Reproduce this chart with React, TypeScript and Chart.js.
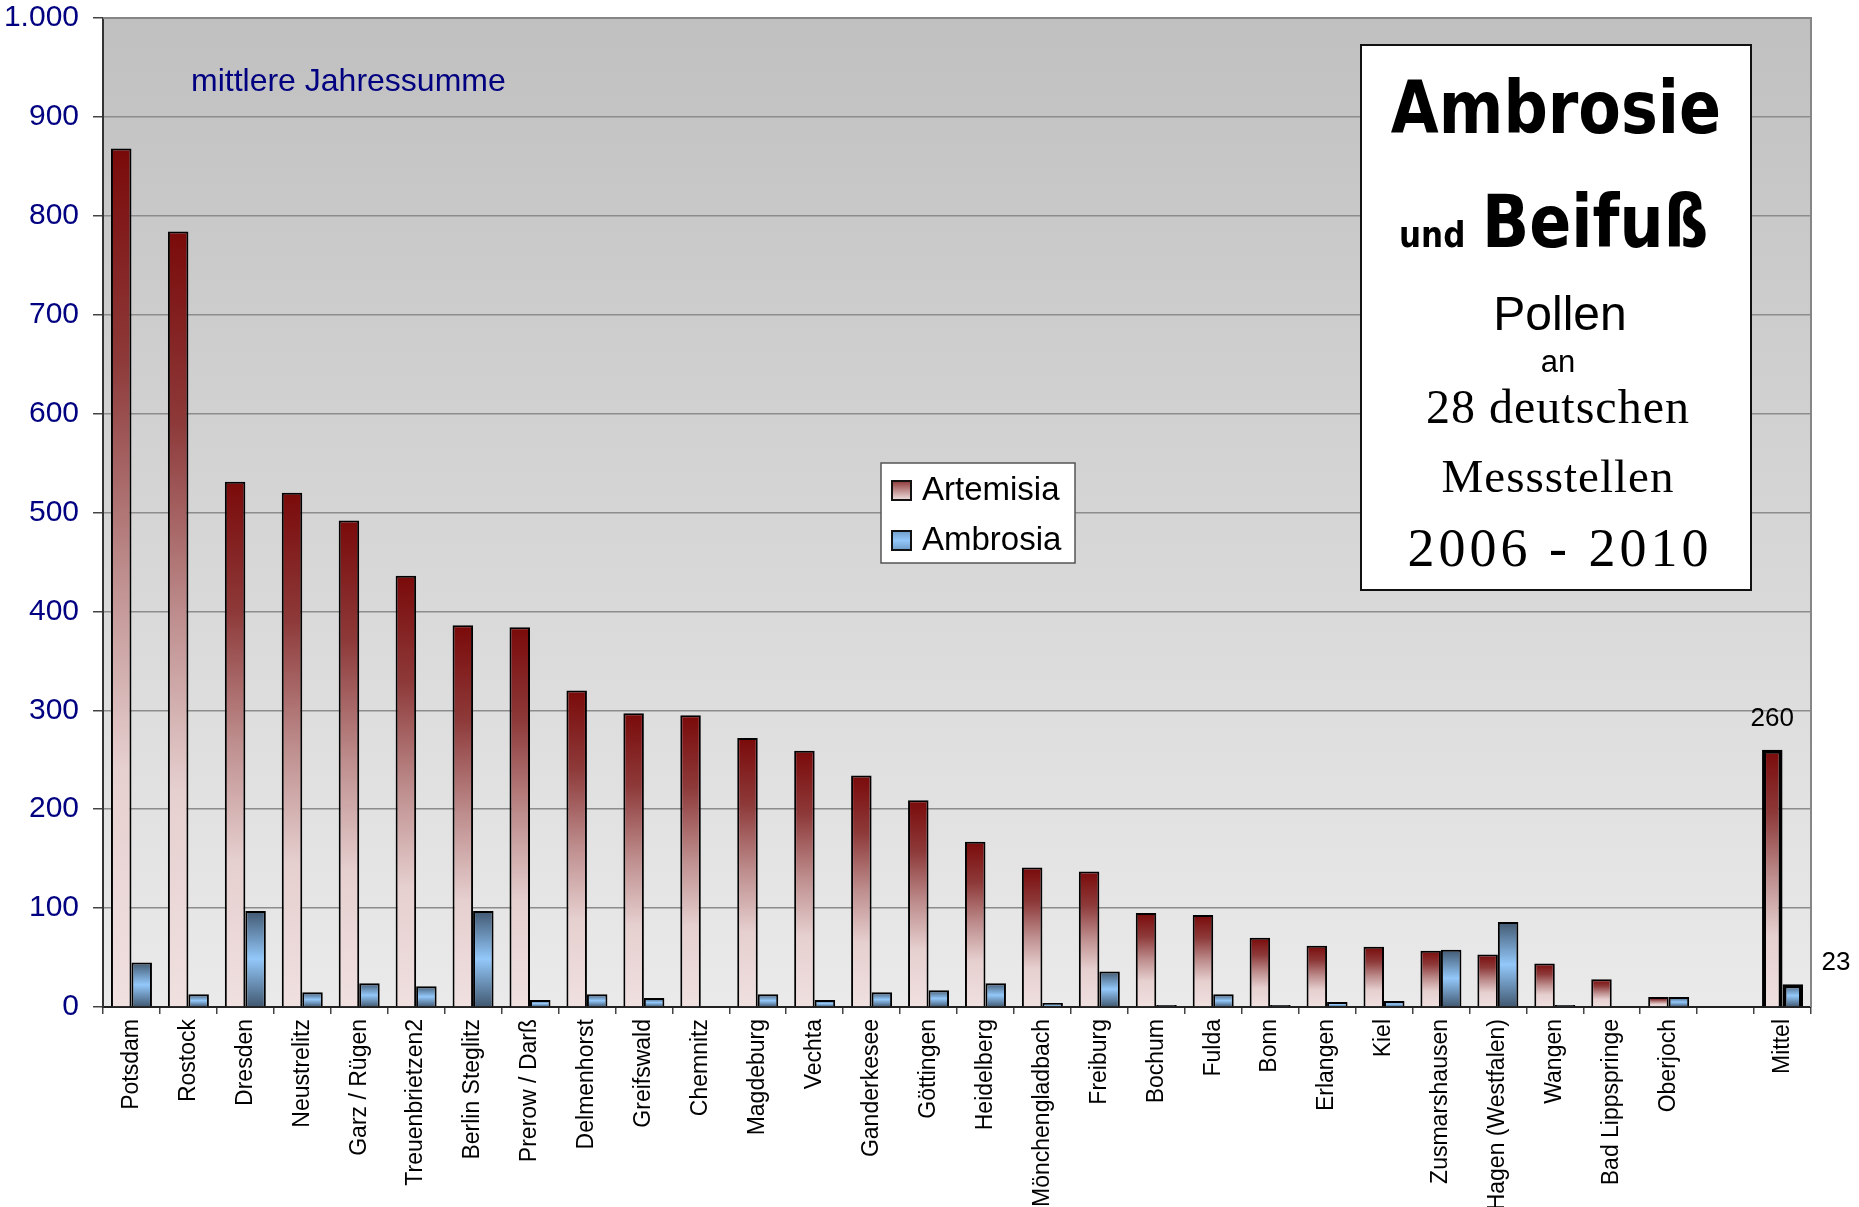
import { useEffect, useRef } from 'react';
import { Chart, registerables } from 'chart.js';

Chart.register(...registerables);

const stations = [
  'Potsdam', 'Rostock', 'Dresden', 'Neustrelitz', 'Garz / Rügen', 'Treuenbrietzen2',
  'Berlin Steglitz', 'Prerow / Darß', 'Delmenhorst', 'Greifswald', 'Chemnitz', 'Magdeburg',
  'Vechta', 'Ganderkesee', 'Göttingen', 'Heidelberg', 'Mönchengladbach', 'Freiburg',
  'Bochum', 'Fulda', 'Bonn', 'Erlangen', 'Kiel', 'Zusmarshausen', 'Hagen (Westfalen)',
  'Wangen', 'Bad Lippspringe', 'Oberjoch', '', 'Mittel',
];

const artemisia = [
  868, 784, 531, 520, 492, 436, 386, 384, 320, 297, 295, 272, 259, 234, 209, 167, 141, 137,
  95, 93, 70, 62, 61, 57, 53, 44, 28, 10, null, 260,
];

const ambrosia = [
  45, 13, 97, 15, 24, 21, 97, 7, 13, 9, 0, 13, 7, 15, 17, 24, 4, 36,
  2, 13, 2, 5, 6, 58, 86, 2, 0, 10, null, 23,
];

const yTicks = [0, 100, 200, 300, 400, 500, 600, 700, 800, 900, 1000];

const seriesNames = ['Artemisia', 'Ambrosia'];

const titleLines = ['Ambrosie', 'und', 'Beifuß', 'Pollen', 'an', '28 deutschen', 'Messstellen', '2006 - 2010'];
const subtitle = 'mittlere Jahressumme';

const SANS = "'Liberation Sans', Arial, sans-serif";
const SERIF = "'Liberation Serif', 'Times New Roman', serif";
const ROUND = "'DejaVu Sans', sans-serif";

function fmt(v: number) {
  return String(v).replace(/\B(?=(\d{3})+(?!\d))/g, '.');
}

function artStops(g: CanvasGradient) {
  g.addColorStop(0, '#7a0a0a');
  g.addColorStop(0.25, '#8e3a3a');
  g.addColorStop(0.5, '#bf8f8f');
  g.addColorStop(0.72, '#e6cfcf');
  g.addColorStop(1, '#f0e0e0');
}

function ambStops(g: CanvasGradient) {
  g.addColorStop(0, '#415870');
  g.addColorStop(0.5, '#93c8fa');
  g.addColorStop(1, '#415870');
}

function makeGrad(kind: 'art' | 'amb') {
  return (c: any) => {
    const chart = c.chart;
    const a = chart.chartArea;
    if (!a || c.type !== 'data' || c.raw == null) return kind === 'art' ? '#c08a8a' : '#93c8fa';
    const y = chart.scales.y;
    const top = y.getPixelForValue(c.raw);
    const bot = y.getPixelForValue(0);
    if (bot - top < 2) return kind === 'art' ? '#7a0a0a' : '#415870';
    const g = chart.ctx.createLinearGradient(0, top, 0, bot);
    if (kind === 'art') artStops(g); else ambStops(g);
    return g;
  };
}

function stretchedText(ctx: CanvasRenderingContext2D, text: string, x: number, y: number, sy: number) {
  ctx.save();
  ctx.translate(x, y);
  ctx.scale(1, sy);
  ctx.fillText(text, 0, 0);
  ctx.restore();
}

const bgPlugin = {
  id: 'bgPlugin',
  beforeDraw(chart: any) {
    const { ctx, chartArea: a } = chart;
    ctx.save();
    const g = ctx.createLinearGradient(0, a.top, 0, a.bottom);
    g.addColorStop(0, '#c0c0c0');
    g.addColorStop(1, '#eaeaea');
    ctx.fillStyle = g;
    ctx.fillRect(a.left, a.top, a.right - a.left, a.bottom - a.top);
    ctx.restore();
  },
  beforeDatasetsDraw(chart: any) {
    const { ctx, chartArea: a } = chart;
    ctx.save();
    ctx.strokeStyle = '#868686';
    ctx.lineWidth = 2;
    ctx.beginPath();
    ctx.moveTo(a.left, a.top);
    ctx.lineTo(a.right, a.top);
    ctx.lineTo(a.right, a.bottom);
    ctx.stroke();
    ctx.restore();
  },
  afterDraw(chart: any) {
    const { ctx, chartArea: a } = chart;
    ctx.save();

    // subtitle
    ctx.fillStyle = '#000080';
    ctx.font = `32px ${SANS}`;
    ctx.textAlign = 'left';
    ctx.textBaseline = 'middle';
    ctx.fillText(subtitle, 191, 82);

    // legend
    const lx = 881, ly = 463, lw = 194, lh = 100;
    ctx.fillStyle = '#ffffff';
    ctx.fillRect(lx, ly, lw, lh);
    ctx.strokeStyle = '#555555';
    ctx.lineWidth = 1.5;
    ctx.strokeRect(lx, ly, lw, lh);
    const swatch = (y: number, kind: 'art' | 'amb') => {
      const g = ctx.createLinearGradient(0, y, 0, y + 19);
      if (kind === 'art') {
        g.addColorStop(0, '#8e3a3a');
        g.addColorStop(1, '#f0e0e0');
      } else {
        g.addColorStop(0, '#6f9cc8');
        g.addColorStop(0.5, '#93c8fa');
        g.addColorStop(1, '#6f9cc8');
      }
      ctx.fillStyle = g;
      ctx.fillRect(892, y, 19, 19);
      ctx.strokeStyle = '#111';
      ctx.lineWidth = 2;
      ctx.strokeRect(892, y, 19, 19);
    };
    swatch(481, 'art');
    swatch(531, 'amb');
    ctx.fillStyle = '#000';
    ctx.font = `33px ${SANS}`;
    ctx.textAlign = 'left';
    ctx.textBaseline = 'middle';
    ctx.fillText(seriesNames[0], 922, 491);
    ctx.fillText(seriesNames[1], 922, 541);

    // title box
    const bx = 1361, by = 45, bw = 390, bh = 545;
    ctx.fillStyle = '#ffffff';
    ctx.fillRect(bx, by, bw, bh);
    ctx.strokeStyle = '#111';
    ctx.lineWidth = 2;
    ctx.strokeRect(bx, by, bw, bh);
    ctx.fillStyle = '#000';
    ctx.textBaseline = 'alphabetic';
    ctx.textAlign = 'center';
    ctx.font = `bold 62px ${ROUND}`;
    stretchedText(ctx, titleLines[0], 1556, 133, 1.18);
    ctx.textAlign = 'left';
    ctx.font = `bold 31px ${ROUND}`;
    stretchedText(ctx, titleLines[1], 1399, 247, 1.12);
    ctx.font = `bold 62px ${ROUND}`;
    stretchedText(ctx, titleLines[2], 1482, 247, 1.18);
    ctx.textAlign = 'center';
    ctx.font = `48px ${SANS}`;
    ctx.fillText(titleLines[3], 1560, 330);
    ctx.font = `31px ${SANS}`;
    ctx.fillText(titleLines[4], 1558, 372);
    (ctx as any).letterSpacing = '1px';
    ctx.font = `48px ${SERIF}`;
    ctx.fillText(titleLines[5], 1558, 423);
    ctx.font = `47px ${SERIF}`;
    ctx.fillText(titleLines[6], 1558, 492);
    (ctx as any).letterSpacing = '4px';
    ctx.font = `54px ${SERIF}`;
    ctx.fillText(titleLines[7], 1560, 566);
    (ctx as any).letterSpacing = '0px';

    // data labels for the mean
    const last = stations.length - 1;
    const m0 = chart.getDatasetMeta(0).data[last];
    const m1 = chart.getDatasetMeta(1).data[last];
    ctx.font = `26px ${SANS}`;
    ctx.textBaseline = 'middle';
    ctx.textAlign = 'center';
    if (m0) ctx.fillText(String(artemisia[last]), m0.x, m0.y - 31);
    if (m1) ctx.fillText(String(ambrosia[last]), a.right + 25, m1.y - 21);

    ctx.restore();
  },
};

export default function App() {
  const ref = useRef<HTMLCanvasElement | null>(null);

  useEffect(() => {
    document.body.style.margin = '0';
    const canvas = ref.current;
    if (!canvas) return;
    const last = stations.length - 1;
    const chart = new Chart(canvas, {
      type: 'bar',
      data: {
        labels: stations,
        datasets: [
          {
            label: seriesNames[0],
            data: artemisia,
            backgroundColor: makeGrad('art'),
            borderColor: '#000',
            borderWidth: (c: any) => (c.dataIndex === last ? 4 : 2),
            categoryPercentage: 0.72,
            barPercentage: 1,
          },
          {
            label: seriesNames[1],
            data: ambrosia,
            backgroundColor: makeGrad('amb'),
            borderColor: '#000',
            borderWidth: (c: any) => (c.dataIndex === last ? 4 : 2),
            categoryPercentage: 0.72,
            barPercentage: 1,
          },
        ],
      },
      options: {
        responsive: false,
        animation: false,
        devicePixelRatio: 1,
        layout: { padding: { top: 18, right: 48, left: 0, bottom: 0 } },
        plugins: {
          legend: { display: false },
          tooltip: { enabled: false },
          title: { display: false },
        },
        scales: {
          x: {
            offset: true,
            grid: {
              display: true,
              drawOnChartArea: false,
              drawTicks: true,
              tickLength: 7,
              tickColor: '#444',
              lineWidth: 1.5,
              offset: true,
            },
            border: { display: true, color: '#222', width: 2 },
            ticks: {
              autoSkip: false,
              maxRotation: 90,
              minRotation: 90,
              padding: 5,
              color: '#000',
              font: { family: SANS, size: 23 },
            },
            afterFit: (s: any) => {
              s.height = 200;
              s.paddingLeft = 0;
              s.paddingRight = 0;
            },
          },
          y: {
            min: 0,
            max: 1000,
            afterBuildTicks: (s: any) => {
              s.ticks = yTicks.map((v) => ({ value: v }));
            },
            grid: {
              color: '#8c8c8c',
              lineWidth: 1.5,
              tickLength: 10,
              tickColor: '#444',
            },
            border: { display: true, color: '#333', width: 2 },
            ticks: {
              padding: 14,
              color: '#000080',
              font: { family: SANS, size: 30 },
              callback: (v: any) => fmt(Number(v)),
            },
            afterFit: (s: any) => {
              s.width = 103;
              s.paddingTop = 0;
              s.paddingBottom = 0;
            },
          },
        },
      },
      plugins: [bgPlugin],
    });
    return () => chart.destroy();
  }, []);

  return (
    <div style={{ position: 'absolute', left: 0, top: 0, width: 1859, height: 1207, background: '#fff' }}>
      <canvas ref={ref} width={1859} height={1207} style={{ display: 'block', width: 1859, height: 1207 }} />
    </div>
  );
}
